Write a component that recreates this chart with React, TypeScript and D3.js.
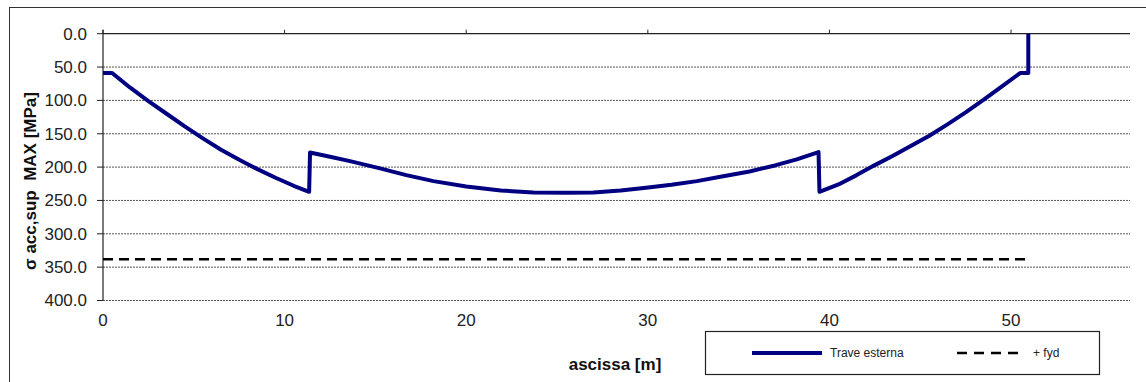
import React from "react";
import * as d3 from "d3";

const beamX = [0, 0.5, 1.5, 2.5, 3.5, 4.5, 5.5, 6.5, 7.5, 8.5, 9.5, 10.5, 11.35, 11.4, 12.5, 13.6, 15.2, 16.7, 18.2, 20, 21.9, 23.7, 25.5, 27, 28.5, 29.9, 31.3, 32.7, 34, 35.6, 37, 38.2, 39.4, 39.45, 40.5, 41.5, 42.5, 43.5, 44.5, 45.5, 46.5, 47.5, 48.5, 49.5, 50.5, 50.95, 50.95];
const beamY = [59, 59, 81, 101, 120, 139, 157, 174, 189, 203, 216, 228, 237, 178, 184.5, 191, 201.5, 212, 221, 229, 235, 238, 238.5, 238, 235, 231, 226.5, 221, 214.5, 206.5, 197.5, 188.5, 177.5, 237, 226, 212, 197, 183, 168, 153, 136, 118, 99, 79, 59, 59, 0];
const fydX = [0, 50.8];
const fydY = [338, 338];
const xTicks = [0, 10, 20, 30, 40, 50];
const yTicks = [0, 50, 100, 150, 200, 250, 300, 350, 400];
const seriesNames = ["Trave esterna", "+ fyd"];
const xTitle = "ascissa [m]";
const yTitle = "σ acc,sup  MAX [MPa]";

const W = 1146;
const H = 382;
const left = 103;
const right = 1130;
const top = 33.7;
const bottom = 300.5;
const font = "'Liberation Sans', Arial, sans-serif";

export default function App() {
  const x = d3.scaleLinear().domain([0, 56.55]).range([left, right]);
  const y = d3.scaleLinear().domain([0, 400]).range([top, bottom]);
  const line = d3
    .line<[number, number]>()
    .x((d) => x(d[0]))
    .y((d) => y(d[1]));
  const beam = beamX.map((v, i) => [v, beamY[i]] as [number, number]);
  const fyd = fydX.map((v, i) => [v, fydY[i]] as [number, number]);

  return (
    <svg
      width={W}
      height={H}
      style={{ position: "absolute", left: 0, top: 0, background: "#fff" }}
      fontFamily={font}
    >
      <rect x={9.5} y={7.5} width={1300} height={600} fill="#fff" stroke="#333" strokeWidth={1} />
      {yTicks.filter((t) => t > 0).map((t) => (
        <line
          key={"g" + t}
          x1={left}
          x2={right}
          y1={y(t)}
          y2={y(t)}
          stroke="#555"
          strokeWidth={1}
          strokeDasharray="2,1"
        />
      ))}
      <line x1={left} x2={right} y1={y(0)} y2={y(0)} stroke="#222" strokeWidth={1.2} />
      {xTicks.map((t) => (
        <line key={"xt" + t} x1={x(t)} x2={x(t)} y1={y(0) - 4} y2={y(0)} stroke="#222" strokeWidth={1} />
      ))}
      <line x1={left} x2={left} y1={y(0) - 4} y2={y(400)} stroke="#222" strokeWidth={1.2} />
      {yTicks.map((t) => (
        <line key={"yt" + t} x1={left - 6} x2={left} y1={y(t)} y2={y(t)} stroke="#222" strokeWidth={1} />
      ))}
      {yTicks.map((t) => (
        <text
          key={"yl" + t}
          x={87}
          y={y(t)}
          dy="0.35em"
          textAnchor="end"
          fontSize={17}
          fill="#222"
        >
          {t.toFixed(1)}
        </text>
      ))}
      {xTicks.map((t) => (
        <text key={"xl" + t} x={x(t)} y={325.5} textAnchor="middle" fontSize={17} fill="#222">
          {t}
        </text>
      ))}
      <path d={line(fyd) || ""} fill="none" stroke="#000" strokeWidth={2.5} strokeDasharray="10,6" />
      <path
        d={line(beam) || ""}
        fill="none"
        stroke="#000080"
        strokeWidth={4}
        strokeLinejoin="round"
      />
      <text x={615} y={370} textAnchor="middle" fontSize={17} fontWeight="bold" fill="#111">
        {xTitle}
      </text>
      <text
        transform={`translate(36, 181) rotate(-90)`}
        textAnchor="middle"
        fontSize={17}
        fontWeight="bold"
        fill="#111"
        style={{ whiteSpace: "pre" }}
      >
        {yTitle}
      </text>
      <rect x={705.5} y={331.5} width={394} height={43} fill="#fff" stroke="#222" strokeWidth={1.2} />
      <line x1={752} x2={822} y1={353} y2={353} stroke="#000080" strokeWidth={4} />
      <text x={830} y={353} dy="0.35em" fontSize={12} fill="#222">
        {seriesNames[0]}
      </text>
      <line x1={957} x2={1020} y1={353} y2={353} stroke="#000" strokeWidth={2.5} strokeDasharray="10,7" />
      <text x={1033} y={353} dy="0.35em" fontSize={12} fill="#222">
        {seriesNames[1]}
      </text>
    </svg>
  );
}
